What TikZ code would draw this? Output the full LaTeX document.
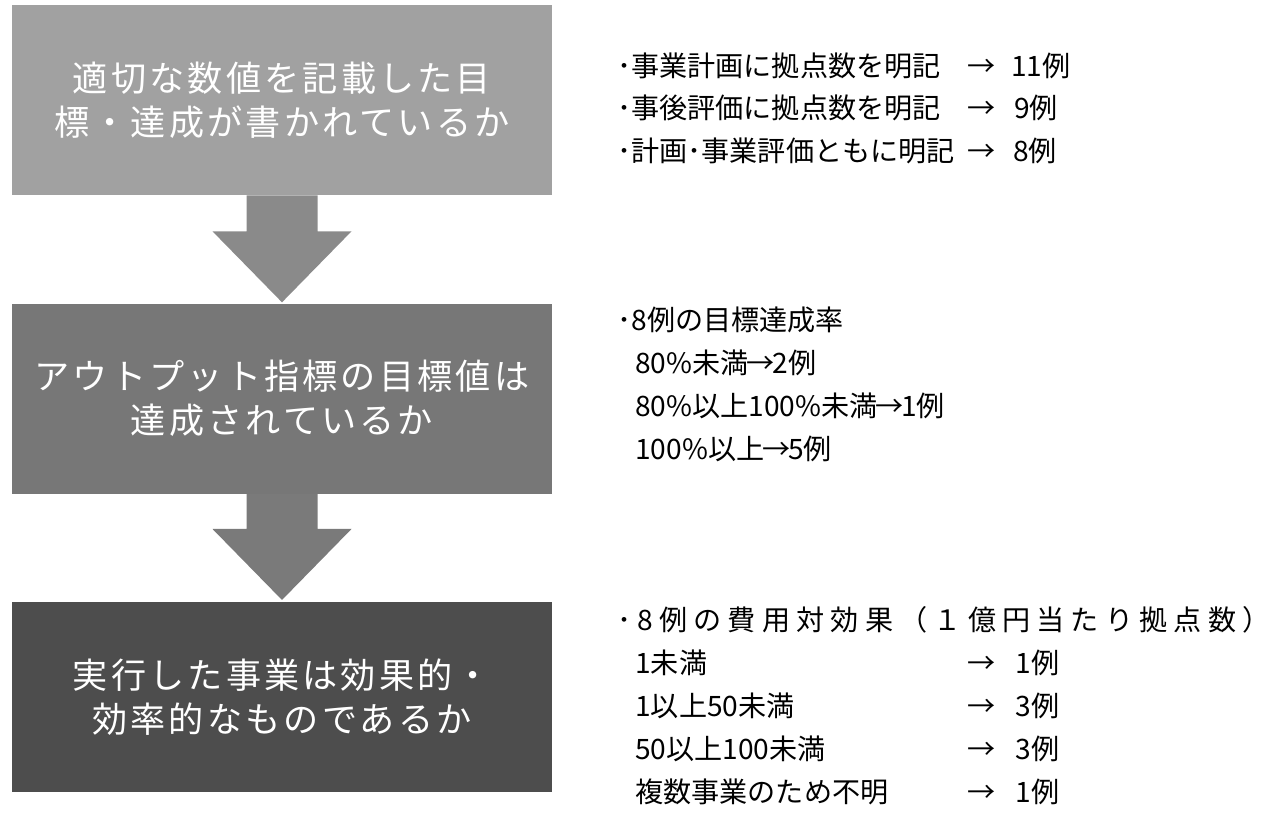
\documentclass[tikz,border=0pt]{standalone}
\usepackage{fontspec}
\setmainfont{Noto Sans CJK JP}
\newfontfamily\boxfont[LetterSpace=9]{Noto Sans CJK JP}
\newfontfamily\widefont[LetterSpace=22]{Noto Sans CJK JP}
\usetikzlibrary{calc,positioning}

\definecolor{stepone}{HTML}{A1A1A1}
\definecolor{steptwo}{HTML}{777777}
\definecolor{stepthree}{HTML}{4D4D4D}
\definecolor{arrowone}{HTML}{8A8A8A}
\definecolor{arrowtwo}{HTML}{7A7A7A}

\begin{document}
\begin{tikzpicture}[x=0.02cm,y=-0.02cm,node distance=2.16cm,
	stepbox/.style={rectangle,inner sep=0pt,minimum width=10.8cm,minimum height=3.8cm,align=center,text=white,font=\boxfont\fontsize{20}{25}\selectfont},
	note/.style={anchor=base west,inner sep=0pt,font=\fontsize{16}{19}\selectfont},
	tip/.style={anchor=base,inner sep=0pt,font=\fontsize{16}{19}\selectfont},
	count/.style={anchor=base east,inner sep=0pt,font=\fontsize{16}{19}\selectfont}]
	\useasboundingbox (0,0) rectangle (1271,812);

	% three checking steps
	\node[stepbox,fill=stepone] (b1) at (282,100) {適切な数値を記載した目\\標・達成が書かれているか};
	\node[stepbox,fill=steptwo] (b2) [below=of b1] {アウトプット指標の目標値は\\達成されているか};
	\node[stepbox,fill=stepthree] (b3) [below=of b2] {実行した事業は効果的・\\効率的なものであるか};

	% block arrows between the steps
	\fill[arrowone] ($(b1.south)+(-35.5,0)$) -- ++(0,36) -- ++(-34,0) -- ($(b2.north)+(0,-1)$)
		-- ($(b1.south)+(69.5,36)$) -- ++(-34,0) -- ($(b1.south)+(35.5,0)$) -- cycle;
	\fill[arrowtwo] ($(b2.south)+(-35.5,0)$) -- ++(0,35) -- ++(-34,0) -- ($(b3.north)+(0,-2)$)
		-- ($(b2.south)+(69.5,35)$) -- ++(-34,0) -- ($(b2.south)+(35.5,0)$) -- cycle;

	% results for step 1
	\node[note] (r11) at (617,76) {･事業計画に拠点数を明記};
	\node[tip] (a11) at (982,76) {→};
	\node[note] (n11) at (1011,76) {11例};
	\node[note] (r12) at (617,118.5) {･事後評価に拠点数を明記};
	\node[tip] (a12) at (982,118.5) {→};
	\node[note] (n12) at (1014,118.5) {9例};
	\node[note] (r13) at (617,161) {･計画･事業評価ともに明記};
	\node[tip] (a13) at (982,161) {→};
	\node[note] (n13) at (1013,161) {8例};

	% results for step 2
	\node[note] (r21) at (617,330) {･8例の目標達成率};
	\node[note] (r22) at (635,373) {80\%未満\kern-1pt→\kern-1.5pt2例};
	\node[note] (r23) at (635,416) {80\%以上100\%未満\kern-1pt→\kern-1.5pt1例};
	\node[note] (r24) at (635,459) {100\%以上\kern-1pt→\kern-1.5pt5例};

	% results for step 3
	\node[note,font=\widefont\fontsize{16}{19}\selectfont] (r31) at (617,630) {･8例の費用対効果（１億円当たり拠点数）};
	\node[note] (r32) at (635,673) {1未満};
	\node[tip] (a32) at (982,673) {→};
	\node[count] (n32) at (1060,673) {1例};
	\node[note] (r33) at (635,716) {1以上50未満};
	\node[tip] (a33) at (982,716) {→};
	\node[count] (n33) at (1060,716) {3例};
	\node[note] (r34) at (635,759) {50以上100未満};
	\node[tip] (a34) at (982,759) {→};
	\node[count] (n34) at (1060,759) {3例};
	\node[note] (r35) at (635,802) {複数事業のため不明};
	\node[tip] (a35) at (982,802) {→};
	\node[count] (n35) at (1060,802) {1例};
\end{tikzpicture}
\end{document}
